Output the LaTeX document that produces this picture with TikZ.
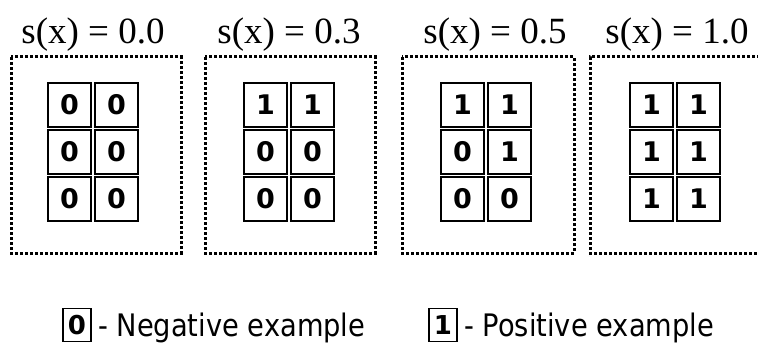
\documentclass[tikz,border=0pt]{standalone}
\usepackage{fontspec}
\setmainfont{Liberation Serif}
\newfontfamily\legendfont[FakeStretch=0.88]{DejaVu Sans}
\newfontfamily\digitfont{DejaVu Sans}
\begin{document}
\begin{tikzpicture}[x=1pt,y=-1pt,
  panel/.style={draw, line width=3pt, dash pattern=on 3pt off 2pt},
  cell/.style={draw, line width=2pt, minimum width=43pt, minimum height=44pt,
    inner sep=0pt, font=\digitfont\bfseries\fontsize{27}{30}\selectfont},
  keycell/.style={draw, line width=1.8pt, minimum width=28pt, minimum height=33pt,
    inner sep=0pt, font=\digitfont\bfseries\fontsize{26}{30}\selectfont},
  title/.style={inner sep=0pt, anchor=base, font=\fontsize{37}{42}\selectfont},
  legendtext/.style={inner sep=0pt, anchor=base west, font=\legendfont\fontsize{31}{36}\selectfont}]
\useasboundingbox (0,0) rectangle (758,353);

% dotted panel frames (the last one runs off the right edge)
\draw[panel] (11,57) rectangle (181,253);
\draw[panel] (205,57) rectangle (375,253);
\draw[panel] (402,57) rectangle (574,253);
\draw[panel] (770,57) -- (590,57) -- (590,253) -- (770,253);

% panel titles
\node[title] (t1) at (93,44) {s(x) = 0.0};
\node[title] (t2) at (289,44) {s(x) = 0.3};
\node[title] (t3) at (495,44) {s(x) = 0.5};
\node[title] (t4) at (677,44) {s(x) = 1.0};

% 3x2 grids of labelled examples
\foreach \p/\x/\a/\b/\c/\d/\e/\f in {
    1/48/0/0/0/0/0/0,
    2/244/1/1/0/0/0/0,
    3/441/1/1/0/1/0/0,
    4/630/1/1/1/1/1/1}{
  \node[cell] (c\p-11) at (\x+21.5,105) {\a};
  \node[cell] (c\p-12) at (\x+68.5,105) {\b};
  \node[cell] (c\p-21) at (\x+21.5,152) {\c};
  \node[cell] (c\p-22) at (\x+68.5,152) {\d};
  \node[cell] (c\p-31) at (\x+21.5,199) {\e};
  \node[cell] (c\p-32) at (\x+68.5,199) {\f};
}

% legend
\node[keycell] (k0) at (77,325) {0};
\node[legendtext] (l0) at (98,336) {- Negative example};
\node[keycell] (k1) at (443,325) {1};
\node[legendtext] (l1) at (464,336) {- Positive example};
\end{tikzpicture}
\end{document}
